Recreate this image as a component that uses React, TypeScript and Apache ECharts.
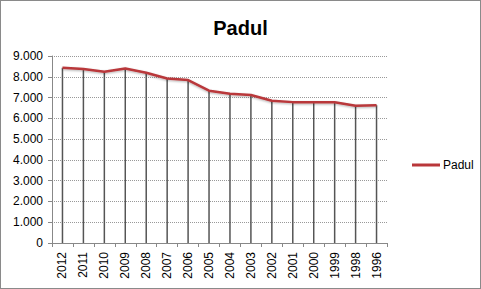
import React, { useEffect, useRef } from "react";
import * as echarts from "echarts";

const years = ["2012","2011","2010","2009","2008","2007","2006","2005","2004","2003","2002","2001","2000","1999","1998","1996"];
const padul = [8430, 8370, 8240, 8400, 8190, 7920, 7840, 7330, 7180, 7120, 6850, 6780, 6770, 6770, 6610, 6630];
const seriesName = "Padul";
const titleText = "Padul";

const fmt = (v: number) => {
  const s = Math.round(v).toString();
  return s.replace(/\B(?=(\d{3})+(?!\d))/g, ".");
};

export default function App() {
  const ref = useRef<HTMLDivElement>(null);
  useEffect(() => {
    document.body.style.margin = "0";
    const chart = echarts.init(ref.current!, null, { renderer: "svg" });
    const font = "'Liberation Sans', Arial, sans-serif";
    chart.setOption({
      animation: false,
      backgroundColor: "#fff",
      title: {
        text: titleText,
        left: "center",
        top: 13,
        textStyle: { fontFamily: font, fontWeight: "bold", fontSize: 20, color: "#000" },
      },
      legend: {
        data: [{ name: seriesName, icon: "rect" }],
        left: 407,
        top: 154,
        itemWidth: 28,
        itemHeight: 3,
        itemGap: 5,
        textStyle: { fontFamily: font, fontSize: 12, color: "#000", padding: [0, 0, 0, -2] },
      },
      grid: { left: 52, right: 94, top: 56, bottom: 46, containLabel: false },
      xAxis: {
        type: "category",
        data: years,
        boundaryGap: true,
        axisLine: { lineStyle: { color: "#888" } },
        axisTick: { show: true, length: 4, lineStyle: { color: "#888" } },
        axisLabel: { rotate: 90, fontFamily: font, fontSize: 12, color: "#000", margin: 9 },
        splitLine: { show: false },
      },
      yAxis: {
        type: "value",
        min: 0,
        max: 9000,
        interval: 1000,
        axisLine: { show: true, lineStyle: { color: "#888" } },
        axisTick: { show: true, length: 4, lineStyle: { color: "#888" } },
        axisLabel: { fontFamily: font, fontSize: 12, color: "#000", margin: 9, formatter: fmt },
        splitLine: { show: true, lineStyle: { color: "#999", type: "dotted" } },
      },
      series: [
        {
          name: "drop",
          type: "bar",
          data: padul,
          barWidth: 1.5,
          itemStyle: { color: "#555" },
          z: 1,
          silent: true,
        },
        {
          name: seriesName,
          type: "line",
          data: padul,
          symbol: "none",
          lineStyle: {
            color: "#B9373A",
            width: 2.5,
            shadowColor: "rgba(0,0,0,0.3)",
            shadowBlur: 2,
            shadowOffsetY: 1,
          },
          itemStyle: { color: "#B9373A" },
          z: 3,
        },
      ],
    });
    return () => chart.dispose();
  }, []);
  return (
    <div style={{ position: "relative", width: 481, height: 289 }}>
      <div ref={ref} style={{ width: 481, height: 289 }} />
      <div
        style={{
          position: "absolute",
          left: 0,
          top: 0,
          width: 481,
          height: 289,
          boxSizing: "border-box",
          border: "1px solid #8a8a8a",
          pointerEvents: "none",
        }}
      />
    </div>
  );
}
